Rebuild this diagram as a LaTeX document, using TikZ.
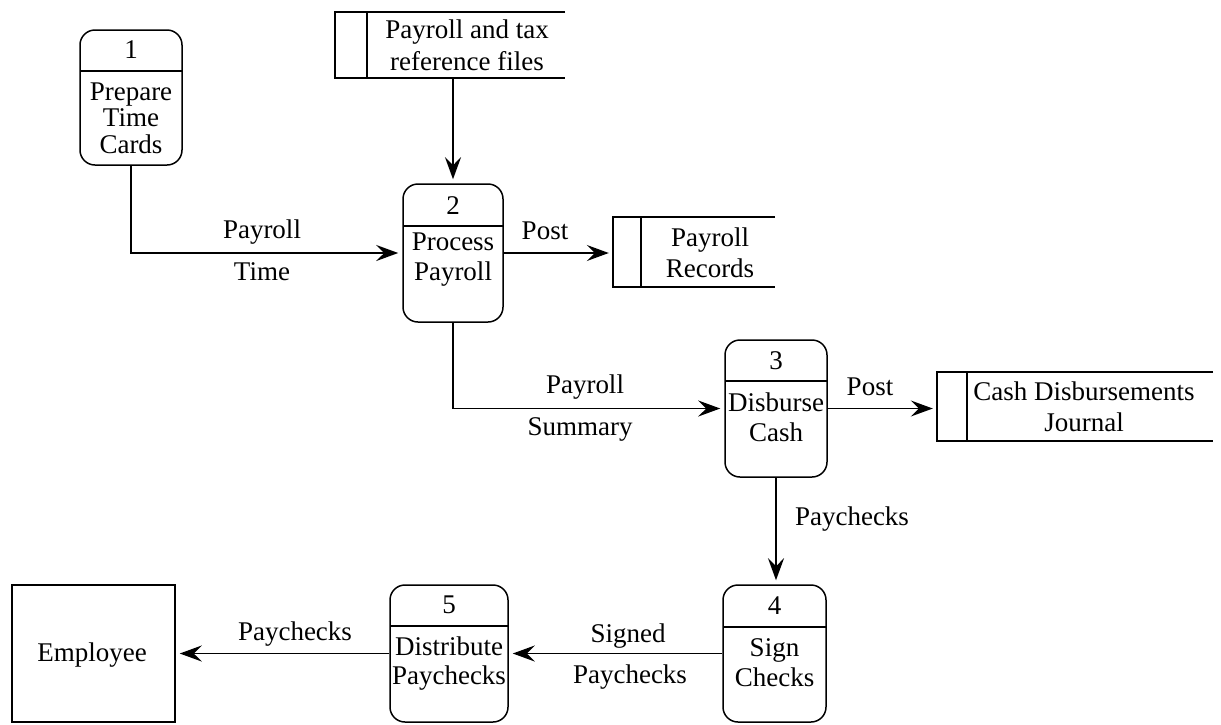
\documentclass[tikz,border=0pt]{standalone}
\usepackage{fontspec}
\setmainfont{LiberationSerif}[Extension=.ttf, UprightFont=*-Regular, BoldFont=*-Bold, ItalicFont=*-Italic, BoldItalicFont=*-BoldItalic]
\usetikzlibrary{arrows.meta}
\begin{document}
\begin{tikzpicture}[x=1pt,y=-1pt,
  every node/.style={font=\rmfamily\fontsize{27}{30}\selectfont, inner sep=0pt},
  procbox/.style={draw, rounded corners=15pt, line width=1.5pt},
  divline/.style={line width=1.5pt},
  storebox/.style={line width=1.5pt},
  entity/.style={draw, line width=1.5pt},
  flow/.style={line width=1.6pt, -{Stealth[length=22pt,width=16pt,inset=8pt]}, shorten >=4pt},
  lbl/.style={align=center},
  inner/.style={align=center}]
\useasboundingbox (0,0) rectangle (1221,724);

% ---- processes ----
\node[procbox, minimum width=102pt, minimum height=135pt] (p1) at (131,97.5) {};
\draw[divline] (80,71) -- (182,71);
\node (n1) at (131,50) {1};
\node[inner, font=\rmfamily\fontsize{27}{26.5}\selectfont] (t1) at (131,118) {Prepare\\Time\\Cards};

\node[procbox, minimum width=100pt, minimum height=138pt] (p2) at (453,253) {};
\draw[divline] (403,226) -- (503,226);
\node (n2) at (453,206) {2};
\node[inner] (t2) at (453,260) {Process\\Payroll};

\node[procbox, minimum width=102pt, minimum height=137pt] (p3) at (776,408.5) {};
\draw[divline] (725,381) -- (827,381);
\node (n3) at (776,361) {3};
\node[inner] (t3) at (776,417) {Disburse\\Cash};

\node[procbox, minimum width=103pt, minimum height=137pt] (p4) at (774.5,653.5) {};
\draw[divline] (723,627) -- (826,627);
\node (n4) at (774.5,606) {4};
\node[inner] (t4) at (774.5,663) {Sign\\Checks};

\node[procbox, minimum width=118pt, minimum height=137pt] (p5) at (449,653.5) {};
\draw[divline] (390,626) -- (508,626);
\node (n5) at (449,605) {5};
\node[inner, font=\rmfamily\fontsize{27}{29}\selectfont] (t5) at (449,664) {Distribute\\Paychecks};

% ---- external entity ----
\node[entity, minimum width=163pt, minimum height=137pt] (emp) at (93.5,653.5) {};
\node (te) at (92,655) {Employee};

% ---- data stores ----
\node[minimum width=230pt, minimum height=66pt] (ds1) at (450,45) {};
\draw[storebox] (565,12) -- (335,12) -- (335,78) -- (565,78);
\draw[storebox] (367,12) -- (367,78);
\node[inner, font=\rmfamily\fontsize{27}{32}\selectfont] (s1) at (467,45) {Payroll and tax\\reference files};

\node[minimum width=162pt, minimum height=70pt] (ds2) at (694,252) {};
\draw[storebox] (775,217) -- (613,217) -- (613,287) -- (775,287);
\draw[storebox] (641,217) -- (641,287);
\node[inner, font=\rmfamily\fontsize{27}{31}\selectfont] (s2) at (710,253) {Payroll\\Records};

\node[minimum width=276pt, minimum height=69pt] (ds3) at (1075,406.5) {};
\draw[storebox] (1213,372) -- (937,372) -- (937,441) -- (1213,441);
\draw[storebox] (967,372) -- (967,441);
\node[inner, font=\rmfamily\fontsize{27}{31}\selectfont] (s3) at (1084,407) {Cash Disbursements\\Journal};

% ---- data flows ----
\draw[flow] (p1.south) |- (p2.west);
\draw[flow] (p2.north |- ds1.south) -- (p2.north);
\draw[flow] (p2.east) -- (p2.east -| ds2.west);
\draw[flow] (p2.south) |- (p3.west);
\draw[flow] (p3.east) -- (p3.east -| ds3.west);
\draw[flow] (p3.south) -- (p3.south |- p4.north);
\draw[flow] (p4.west) -- (p4.west -| p5.east);
\draw[flow] (p5.west) -- (p5.west -| emp.east);

% ---- flow labels ----
\node[lbl] (l1a) at (262,232) {Payroll};
\node[lbl] (l1b) at (262,272) {Time};
\node[lbl] (l2) at (545,231) {Post};
\node[lbl] (l3a) at (585,387) {Payroll};
\node[lbl] (l3b) at (580,429) {Summary};
\node[lbl] (l4) at (870,387) {Post};
\node[lbl] (l5) at (852,519) {Paychecks};
\node[lbl] (l6a) at (628,636) {Signed};
\node[lbl] (l6b) at (630,677) {Paychecks};
\node[lbl] (l7) at (295,634) {Paychecks};
\end{tikzpicture}
\end{document}
